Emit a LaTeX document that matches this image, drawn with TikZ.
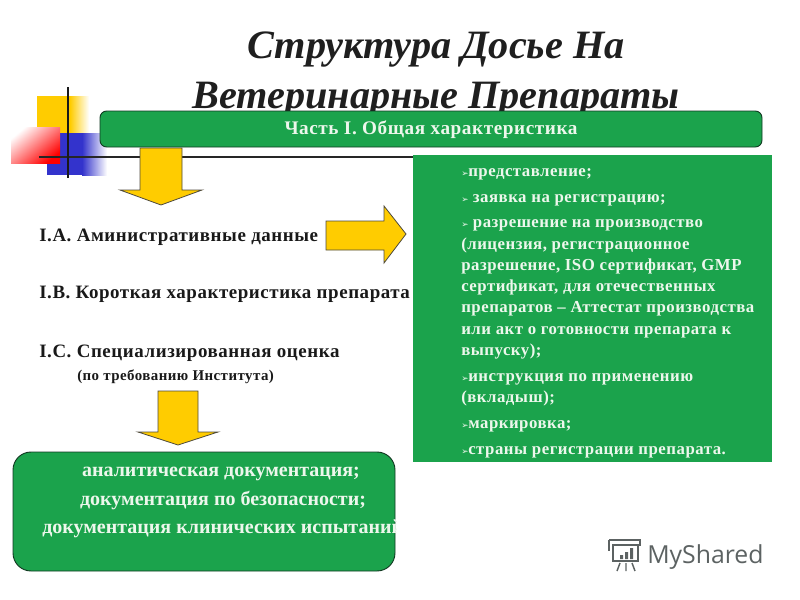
\documentclass[tikz,border=0pt]{standalone}
\usepackage{fontspec}
\setmainfont{Liberation Serif}
\newfontfamily\logofont{Open Sans}
\newfontfamily\bulletfont{DejaVu Sans}
\usepackage{xcolor}
\definecolor{leafgreen}{HTML}{1BA34C}
\definecolor{darkedge}{HTML}{123A22}
\definecolor{paletext}{HTML}{EDF7EC}
\definecolor{arrowyellow}{HTML}{FFCC00}
\definecolor{deepblue}{HTML}{3333CC}
\definecolor{logogray}{HTML}{5C6262}
\newcommand{\wide}{\addfontfeature{LetterSpace=3}}
\tikzset{
  yellowarrow/.style={draw=black!80!yellow, line width=0.6pt, fill=arrowyellow, line join=miter},
  greenbox/.style={draw=darkedge, line width=0.7pt, fill=leafgreen},
  lefttext/.style={anchor=base west, inner sep=0pt, font=\fontsize{14.2}{16}\selectfont\bfseries\wide, text=black!90},
  righttext/.style={anchor=base west, inner sep=0pt, font=\fontsize{12.6}{14}\selectfont\bfseries\wide, text=paletext},
  lowertext/.style={anchor=base, inner sep=0pt, font=\fontsize{15}{18}\selectfont\bfseries, text=paletext},
  titletext/.style={anchor=base west, inner sep=0pt, font=\fontsize{30.2}{34}\selectfont\bfseries\itshape, text=black!88}
}
\newcommand{\dartmark}{\makebox[5.25pt][l]{\bulletfont\fontsize{6.5}{7}\selectfont\char"27A2}}
\begin{document}
\begin{tikzpicture}[x=0.75pt,y=-0.75pt]
  \useasboundingbox (0,0) rectangle (800,600);
  % corner decoration
  \fill [arrowyellow] (37,96) rectangle (70,134);
  \shade [left color=arrowyellow, right color=white] (70,96) rectangle (89,134);
  \fill [deepblue] (60,133) rectangle (82,163);
  \shade [left color=deepblue, right color=white] (82,133) rectangle (107,163);
  \fill [deepblue] (47,163) rectangle (82,175);
  \shade [left color=deepblue, right color=white] (82,163) rectangle (107,175);
  \shade [left color=white, right color=red, shading angle=40] (11,127) rectangle (60,163);
  \draw [line width=1.6pt, black!85] (39,157) -- (413,157);
  \draw [line width=1.6pt, black!90] (68,87) -- (68,178);
  % title
  \node [titletext] (title1) at (247,58) {Структура Досье На};
  \node [titletext] (title2) at (192,108) {Ветеринарные Препараты};
  % top bar
  \node [greenbox, rounded corners=5, minimum width=496.5pt, minimum height=27pt, inner sep=0pt] (bar) at (431,129) {};
  \node [font=\fontsize{14.4}{16}\selectfont\bfseries\wide, text=paletext, inner sep=0pt] (bartext) at (431,130) {Часть I. Общая характеристика};
  % arrows
  \draw [yellowarrow] (140,148) -- (182,148) -- (182,190) -- (202,190) -- (161,205) -- (120,190) -- (140,190) -- cycle;
  \draw [yellowarrow] (326,221) -- (384,221) -- (384,206) -- (406,234) -- (384,263) -- (384,250) -- (326,250) -- cycle;
  \draw [yellowarrow] (158,391) -- (198,391) -- (198,432) -- (218,432) -- (178,445) -- (138,432) -- (158,432) -- cycle;
  % left column
  \node [lefttext] (ia) at (39,241) {I.A. Аминистративные данные};
  \node [lefttext] (ib) at (39,298) {I.B. Короткая характеристика препарата};
  \node [lefttext] (ic) at (39,357) {I.C. Специализированная оценка};
  \node [anchor=base west, inner sep=0pt, font=\fontsize{11.2}{13}\selectfont\bfseries\wide, text=black!90] (icnote) at (77,380) {(по требованию Института)};
  % right box
  \node [fill=leafgreen, minimum width=269.25pt, minimum height=230.25pt, inner sep=0pt] (rbox) at (592.5,308.5) {};
  \foreach \ypos/\linetext in {
      176/{\dartmark представление;},
      202/{\dartmark\ заявка на регистрацию;},
      227/{\dartmark\ разрешение на производство},
      249/{(лицензия, регистрационное},
      270/{разрешение, ISO сертификат, GMP},
      291/{сертификат, для отечественных},
      312/{препаратов – Аттестат производства},
      334/{или акт о готовности препарата к},
      355/{выпуску);},
      381/{\dartmark инструкция по применению},
      402/{(вкладыш);},
      428/{\dartmark маркировка;},
      454/{\dartmark страны регистрации препарата.}}
    \node [righttext] at (461,\ypos) {\linetext};
  % lower box
  \node [greenbox, rounded corners=13.5pt, minimum width=286.5pt, minimum height=89.25pt, inner sep=0pt] (lowbox) at (204,511.5) {};
  \node [lowertext] (low1) at (221,476) {аналитическая документация;};
  \node [lowertext] (low2) at (223,505) {документация по безопасности;};
  \begin{scope}
    \clip (0,510) rectangle (396,550);
    \node [lowertext, anchor=base west] (low3) at (42,533) {документация клинических испытаний;};
  \end{scope}
  % logo
  \begin{scope}[logogray, line width=1.1pt]
    \draw (609,540) -- (640,540) -- (640,545) -- (612,545) (609,540) -- (609,551);
    \draw (613,545) -- (613,561) -- (638,561) -- (638,545);
    \fill (620,555) rectangle (623,559) (625,552) rectangle (628,559) (630,548) rectangle (633,559);
    \draw (620,563) -- (617,571) (626,563) -- (626,571) (632,563) -- (635,571);
  \end{scope}
  \node [anchor=base west, inner sep=0pt, font=\logofont\fontsize{18.6}{22}\selectfont, text=logogray] (logo) at (647,563) {MyShared};
\end{tikzpicture}
\end{document}
